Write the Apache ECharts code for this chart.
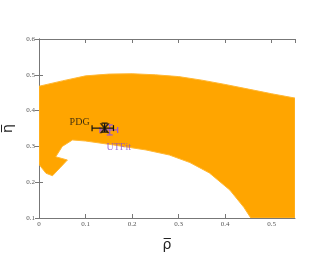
<!DOCTYPE html>
<html><head><meta charset="utf-8">
<script src="https://cdn.jsdelivr.net/npm/echarts@6/dist/echarts.min.js"></script>
<style>html,body{margin:0;padding:0;background:#fff}#c{width:332px;height:257px}</style>
</head><body><div id="c"></div>
<script>
// Allowed region boundary (rho, eta)
const upperRho = [0, 0.05, 0.10, 0.15, 0.20, 0.25, 0.30, 0.35, 0.40, 0.45, 0.50, 0.55];
const upperEta = [0.468, 0.483, 0.497, 0.502, 0.503, 0.500, 0.495, 0.485, 0.473, 0.460, 0.447, 0.435];
const lowerRho = [0.55, 0.455, 0.44, 0.41, 0.366, 0.324, 0.28, 0.23, 0.16, 0.10, 0.072, 0.05, 0.036, 0.061, 0.045, 0.029, 0.015, 0.004, 0];
const lowerEta = [0.10, 0.10, 0.13, 0.178, 0.226, 0.255, 0.276, 0.290, 0.304, 0.315, 0.318, 0.300, 0.271, 0.262, 0.240, 0.218, 0.225, 0.243, 0.25];
// Measurements: [rho, eta, rhoLo, rhoHi, etaLo, etaHi]
const pdg = [0.141, 0.351, 0.114, 0.160, 0.340, 0.365];
const utfit = [0.152, 0.346, 0.131, 0.169, 0.332, 0.360];
const xTicks = [0, 0.1, 0.2, 0.3, 0.4, 0.5];
const yTicks = [0.1, 0.2, 0.3, 0.4, 0.5, 0.6];

const poly = [];
upperRho.forEach((r, i) => poly.push([r, upperEta[i]]));
lowerRho.forEach((r, i) => poly.push([r, lowerEta[i]]));

const chart = echarts.init(document.getElementById('c'));
const axisLbl = {fontFamily: 'Liberation Serif', fontSize: 7, color: '#555'};
function errRender(color) {
  return function (params, api) {
    const l = api.coord([api.value(2), api.value(1)]);
    const r = api.coord([api.value(3), api.value(1)]);
    const b = api.coord([api.value(0), api.value(4)]);
    const t = api.coord([api.value(0), api.value(5)]);
    const st = {stroke: color, lineWidth: 1.2};
    return {type: 'group', children: [
      {type: 'line', shape: {x1: l[0], y1: l[1], x2: r[0], y2: r[1]}, style: st},
      {type: 'line', shape: {x1: l[0], y1: l[1] - 3, x2: l[0], y2: l[1] + 3}, style: st},
      {type: 'line', shape: {x1: r[0], y1: r[1] - 3, x2: r[0], y2: r[1] + 3}, style: st},
      {type: 'line', shape: {x1: b[0], y1: b[1], x2: t[0], y2: t[1]}, style: st},
      {type: 'line', shape: {x1: b[0] - 3, y1: b[1], x2: b[0] + 3, y2: b[1]}, style: st},
      {type: 'line', shape: {x1: t[0] - 3, y1: t[1], x2: t[0] + 3, y2: t[1]}, style: st}
    ]};
  };
}
chart.setOption({
  animation: false,
  grid: {left: 39, top: 39, right: 37, bottom: 39, containLabel: false, outerBoundsMode: 'none'},
  xAxis: [{
    type: 'value', min: 0, max: 0.55, interval: 0.1,
    axisLine: {lineStyle: {color: '#777'}},
    axisTick: {inside: true, length: 4, lineStyle: {color: '#777'}},
    splitLine: {show: false},
    axisLabel: Object.assign({margin: 3, showMaxLabel: false, formatter: v => xTicks.includes(+v.toFixed(2)) ? (v === 0 ? '0' : v.toFixed(1)) : ''}, axisLbl),
    name: 'ρ\u0305', nameLocation: 'middle', nameGap: 20,
    nameTextStyle: {fontFamily: 'DejaVu Sans', fontSize: 14, color: '#222'}
  }, {
    type: 'value', position: 'top', min: 0, max: 0.55, interval: 0.1,
    axisLine: {lineStyle: {color: '#777'}},
    axisTick: {inside: true, length: 4, lineStyle: {color: '#777'}},
    axisLabel: {show: false}, splitLine: {show: false}
  }],
  yAxis: [{
    type: 'value', min: 0.1, max: 0.6, interval: 0.1,
    axisLine: {show: true, lineStyle: {color: '#777'}},
    axisTick: {show: true, inside: true, length: 4, lineStyle: {color: '#777'}},
    splitLine: {show: false},
    axisLabel: Object.assign({margin: 4, formatter: v => v.toFixed(1)}, axisLbl),
    name: 'η\u0305', nameLocation: 'middle', nameGap: 22,
    nameTextStyle: {fontFamily: 'DejaVu Sans', fontSize: 14, color: '#222'}
  }, {
    type: 'value', position: 'right', min: 0.1, max: 0.6, interval: 0.1,
    axisLine: {show: true, lineStyle: {color: '#777'}},
    axisTick: {show: true, inside: true, length: 4, lineStyle: {color: '#777'}},
    axisLabel: {show: false}, splitLine: {show: false}
  }],
  series: [{
    type: 'custom', silent: true, clip: true,
    data: [0],
    renderItem: function (params, api) {
      return {type: 'polygon', shape: {points: poly.map(p => api.coord(p))},
        style: {fill: '#FFA500', stroke: '#FFB733', lineWidth: 1}};
    }
  }, {
    type: 'custom', data: [utfit], renderItem: errRender('#9A55D6'), z: 3
  }, {
    type: 'custom', data: [pdg], renderItem: errRender('#111'), z: 4
  }, {
    type: 'scatter', z: 5,
    data: [[pdg[0], pdg[1]]],
    symbol: 'path://M0,0L2,0L5,3.5L8,0L10,0L6,5L10,10L8,10L5,6.5L2,10L0,10L4,5Z',
    symbolSize: 10, itemStyle: {color: '#111'},
    label: {show: true, position: 'left', distance: 10, offset: [0, -6], formatter: 'PDG',
      fontFamily: 'Liberation Serif', fontSize: 10, color: '#111'}
  }, {
    type: 'scatter', z: 5,
    data: [[utfit[0], utfit[1]]],
    symbolSize: 0,
    label: {show: true, position: 'bottom', distance: 6, offset: [9, 6], formatter: 'UTFit',
      fontFamily: 'Liberation Serif', fontSize: 10, color: '#8A4FD0'}
  }]
});
</script></body></html>
